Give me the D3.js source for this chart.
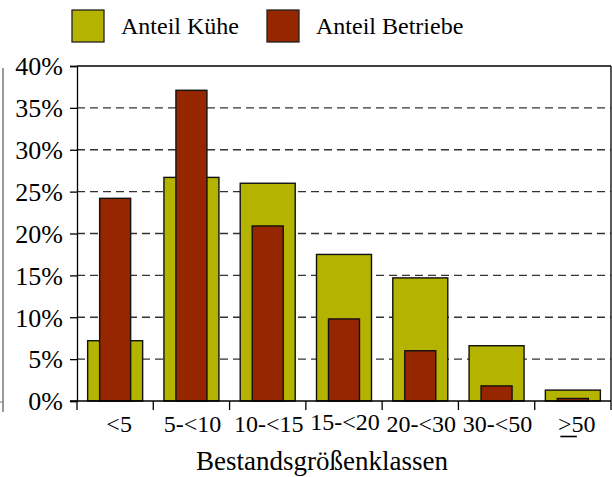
<!DOCTYPE html>
<html><head><meta charset="utf-8">
<script src="https://cdn.jsdelivr.net/npm/d3@7"></script>
</head><body style="margin:0;background:#fff"><svg id="c" width="612" height="477" style="display:block">
</svg>
<script>
const categories = ["<5","5-<10","10-<15","15-<20","20-<30","30-<50",">50"];
const anteilKuehe = [7.2, 26.7, 26.0, 17.5, 14.7, 6.6, 1.3];
const anteilBetriebe = [24.2, 37.1, 20.9, 9.8, 6.0, 1.8, 0.3];
const yTicks = [0,5,10,15,20,25,30,35,40];
const seriesNames = ["Anteil Kühe","Anteil Betriebe"];
const colors = ["#b3b300","#962600"];
const FONT = "Liberation Serif, Times New Roman, serif";

const svg = d3.select("#c");
const L=77,R=611,T=66,B=401;
const x = d3.scaleBand().domain(categories).range([L,R]).padding(0);
const y = d3.scaleLinear().domain([0,40]).range([B,T]);

// stray left line
svg.append("line").attr("x1",3).attr("x2",3).attr("y1",68).attr("y2",412).attr("stroke","#777").attr("stroke-width",1.5);
svg.append("line").attr("x1",0).attr("x2",3).attr("y1",402).attr("y2",402).attr("stroke","#777");

// gridlines
svg.append("g").selectAll("line").data(yTicks.filter(d=>d>0&&d<40)).join("line")
  .attr("x1",L).attr("x2",R).attr("y1",d=>y(d)).attr("y2",d=>y(d))
  .attr("stroke","#333").attr("stroke-width",1.3).attr("stroke-dasharray","8,5");

// bars
const g = svg.append("g");
g.selectAll("rect.k").data(anteilKuehe).join("rect").attr("class","k")
  .attr("x",(d,i)=>x(categories[i])+x.bandwidth()/2-27.5).attr("width",55)
  .attr("y",d=>y(d)).attr("height",d=>B-y(d))
  .attr("fill",colors[0]).attr("stroke","#111").attr("stroke-width",1.4);
g.selectAll("rect.b").data(anteilBetriebe).join("rect").attr("class","b")
  .attr("x",(d,i)=>x(categories[i])+x.bandwidth()/2-15.5).attr("width",31)
  .attr("y",d=>y(d)).attr("height",d=>B-y(d))
  .attr("fill",colors[1]).attr("stroke","#111").attr("stroke-width",1.4);

// frame
svg.append("line").attr("x1",L).attr("x2",R).attr("y1",T).attr("y2",T).attr("stroke","#000").attr("stroke-width",1.3);
svg.append("line").attr("x1",R).attr("x2",R).attr("y1",T).attr("y2",B).attr("stroke","#000").attr("stroke-width",1.3);

// y axis
const ya = svg.append("g").attr("transform",`translate(${L},0)`)
  .call(d3.axisLeft(y).tickValues(yTicks).tickSize(7).tickPadding(7).tickFormat(d=>d+"%"));
ya.attr("font-family",FONT).attr("font-size",26);
ya.select(".domain").attr("stroke","#000").attr("stroke-width",1.3);
ya.selectAll(".tick line").attr("stroke","#000").attr("stroke-width",1.3);
ya.selectAll("text").attr("fill","#000").attr("dy","0.34em");

// x axis
svg.append("line").attr("x1",70).attr("x2",R).attr("y1",B).attr("y2",B).attr("stroke","#000").attr("stroke-width",1.3);
const bounds = categories.map(c=>x(c)).concat([R]);
svg.append("g").selectAll("line").data(bounds).join("line")
  .attr("x1",d=>d).attr("x2",d=>d).attr("y1",B).attr("y2",410).attr("stroke","#000").attr("stroke-width",1.3);
svg.append("g").attr("font-family",FONT).attr("font-size",24).selectAll("text").data(categories).join("text")
  .attr("x",(d,i)=>x(d)+x.bandwidth()/2+(d.length<=3?4:1)).attr("y",(d,i)=>i===3?430:432)
  .attr("text-anchor","middle").text(d=>d);
// underline for >= sign
const last = categories[categories.length-1];
svg.append("line").attr("x1",x(last)+x.bandwidth()/2-12.5).attr("x2",x(last)+x.bandwidth()/2+4)
  .attr("y1",436.5).attr("y2",436.5).attr("stroke","#000").attr("stroke-width",1.6);

svg.append("text").attr("x",322).attr("y",470).attr("text-anchor","middle")
  .attr("font-family",FONT).attr("font-size",27).text("Bestandsgrößenklassen");

// legend
const lx=[72,267];
seriesNames.forEach((n,i)=>{
  svg.append("rect").attr("x",lx[i]).attr("y",10).attr("width",32).attr("height",32)
    .attr("fill",colors[i]).attr("stroke","#222").attr("stroke-width",1.3);
  svg.append("text").attr("x",lx[i]+49).attr("y",34)
    .attr("font-family",FONT).attr("font-size",24).text(n);
});
</script></body></html>
